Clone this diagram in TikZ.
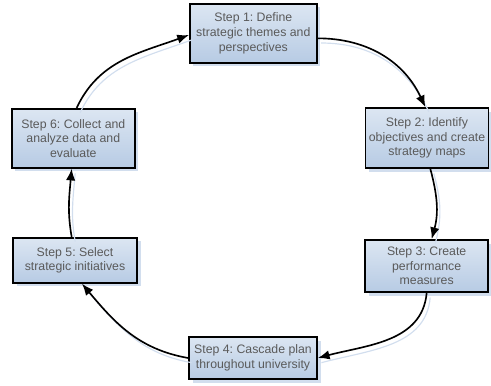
\documentclass[tikz,border=0pt]{standalone}
\usepackage{fontspec}
\setmainfont{Liberation Sans}
\usepackage{xcolor}
\usepackage{tikz}
\usetikzlibrary{arrows.meta,positioning,calc,shadows}
\definecolor{boxtop}{HTML}{DCE6F2}
\definecolor{boxbot}{HTML}{B7CBE4}
\definecolor{textgray}{HTML}{5A5A5A}
\definecolor{shadeblue}{HTML}{D2DEEE}
\frenchspacing

\begin{document}
\begin{tikzpicture}[
  stepbox/.style={draw,line width=1.5pt,align=center,
              inner xsep=0.1cm,inner ysep=2pt,text=textgray,
              font=\fontsize{10.5}{12.5}\selectfont,
              top color=boxtop,bottom color=boxbot,
              drop shadow={shadow xshift=3pt,shadow yshift=-3pt,fill=shadeblue,opacity=1}},
  arr/.style={-{Latex[length=10pt,width=8pt]},line width=1.4pt,
              preaction={draw=shadeblue,line width=1pt,-,
                         transform canvas={shift={(3pt,-4pt)}}}}
]
  \useasboundingbox (0,0) rectangle (14.73,11.55);

  % Steps round the cycle
  \node[stepbox,minimum width=3.81cm,minimum height=1.77cm] (define) at (7.6,10.55)
    {Step 1: Define\\strategic themes and\\perspectives};
  \node[stepbox,minimum width=3.66cm,minimum height=1.8cm] (identify) at (12.81,7.41)
    {Step 2: Identify\\objectives and create\\strategy maps};
  \node[stepbox,minimum width=3.69cm,minimum height=1.56cm] (measures) at (12.8,3.57)
    {Step 3: Create\\performance\\measures};
  \node[stepbox,minimum width=3.84cm,minimum height=1.26cm] (cascade) at (7.59,0.81)
    {Step 4: Cascade plan\\throughout university};
  \node[stepbox,minimum width=3.72cm,minimum height=1.35cm] (select) at (2.25,3.74)
    {Step 5: Select\\strategic initiatives};
  \node[stepbox,minimum width=3.69cm,minimum height=1.77cm] (collect) at (2.2,7.4)
    {Step 6: Collect and\\analyze data and\\evaluate};

  % Arrows
  \draw[arr] ([yshift=-0.15cm]define.east) to[out=0,in=115] ([xshift=-0.05cm]identify.north);
  \draw[arr] ([xshift=0.1cm]identify.south) to[out=-75,in=75] ([xshift=0.15cm]measures.north);
  \draw[arr] (measures.south) to[out=-95,in=15] (cascade.east);
  \draw[arr] (cascade.west) to[out=170,in=-50] ([xshift=0.21cm]select.south);
  \draw[arr] ([xshift=-0.1cm]select.north) to[out=100,in=-95] ([xshift=-0.05cm]collect.south);
  \draw[arr] ([xshift=0.1cm]collect.north) to[out=65,in=200] ([yshift=-0.05cm]define.west);
\end{tikzpicture}
\end{document}
